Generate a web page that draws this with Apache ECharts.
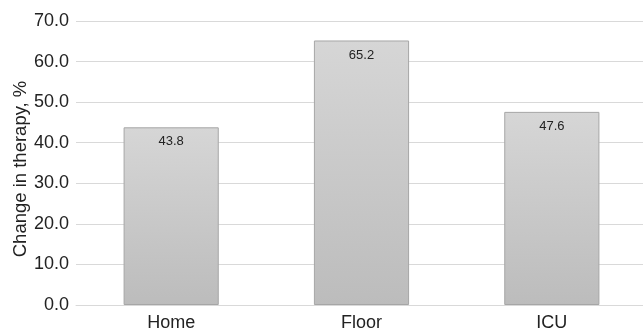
<!DOCTYPE html>
<html><head><meta charset="utf-8">
<script src="https://cdn.jsdelivr.net/npm/echarts@6/dist/echarts.min.js"></script>
<style>html,body{margin:0;padding:0;background:#fff}#c{width:643px;height:329px}</style>
</head><body><div id="c"></div>
<script>
const categories = ['Home', 'Floor', 'ICU'];
const values = [43.8, 65.2, 47.6];
const yTicks = { min: 0, max: 70, interval: 10 };
const yTitle = 'Change in therapy, %';

const FONT = 'Liberation Sans, Arial, sans-serif';
const chart = echarts.init(document.getElementById('c'), null, { renderer: 'canvas' });
chart.setOption({
  animation: false,
  grid: { left: 76, right: -4, top: 21, bottom: 24, containLabel: false, outerBoundsMode: 'none' },
  xAxis: {
    type: 'category', data: categories,
    axisLine: { show: true, lineStyle: { color: '#d9d9d9', width: 1 } },
    axisTick: { show: false },
    axisLabel: { color: '#222', fontSize: 18, fontFamily: FONT, margin: 9 }
  },
  yAxis: {
    type: 'value', min: yTicks.min, max: yTicks.max, interval: yTicks.interval,
    name: yTitle, nameLocation: 'middle', nameGap: 46, nameMoveOverlap: false,
    nameTextStyle: { color: '#222', fontSize: 18.5, fontFamily: FONT, padding: [0, 12, 0, 0] },
    axisLine: { show: false }, axisTick: { show: false },
    axisLabel: { color: '#222', fontSize: 18, fontFamily: FONT, margin: 7,
      formatter: v => v.toFixed(1) },
    splitLine: { lineStyle: { color: '#d9d9d9', width: 1 } }
  },
  series: [{
    type: 'bar', data: values, barWidth: '50%',
    itemStyle: {
      color: new echarts.graphic.LinearGradient(0, 0, 0, 1, [
        { offset: 0, color: '#d6d6d6' }, { offset: 1, color: '#bcbcbc' }
      ]),
      borderColor: '#a6a6a6', borderWidth: 1
    },
    label: { show: true, position: 'insideTop', distance: 8, color: '#222', fontSize: 13,
      fontFamily: FONT, formatter: p => p.value.toFixed(1) }
  }]
});
</script></body></html>
